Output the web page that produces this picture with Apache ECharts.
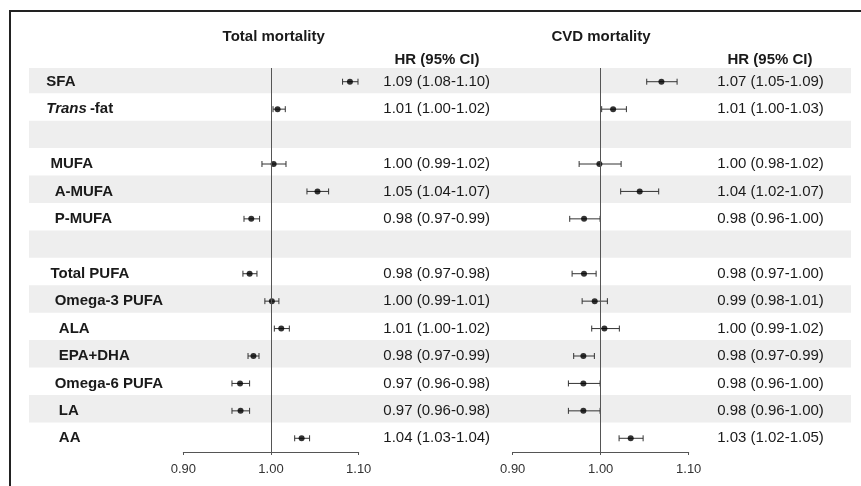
<!DOCTYPE html>
<html>
<head>
<meta charset="utf-8">
<script src="https://cdn.jsdelivr.net/npm/echarts@6/dist/echarts.min.js"></script>
<style>
html,body{margin:0;padding:0;background:#fff;}
#c{width:861px;height:486px;}
</style>
</head>
<body>
<div id="c"></div>
<script>
// ---- data ----
var rowLabels = ["SFA", "Trans-fat", "", " MUFA", "  A-MUFA", "  P-MUFA", "", " Total PUFA", "  Omega-3 PUFA", "   ALA", "   EPA+DHA", "  Omega-6 PUFA", "   LA", "   AA"];
var shadedRows = [0, 2, 4, 6, 8, 10, 12];

var totalEst = [1.090, 1.0075, null, 1.003, 1.053, 0.9775, null, 0.9756, 1.001, 1.0117, 0.980, 0.9647, 0.9653, 1.0349];
var totalLo  = [1.0816, 1.0023, null, 0.9897, 1.041, 0.9692, null, 0.968, 0.993, 1.0038, 0.9738, 0.9555, 0.9555, 1.027];
var totalHi  = [1.0992, 1.0163, null, 1.0171, 1.0657, 0.987, null, 0.984, 1.009, 1.0209, 0.9863, 0.9756, 0.9756, 1.044];
var totalText = ["1.09 (1.08-1.10)", "1.01 (1.00-1.02)", "", "1.00 (0.99-1.02)", "1.05 (1.04-1.07)", "0.98 (0.97-0.99)", "", "0.98 (0.97-0.98)", "1.00 (0.99-1.01)", "1.01 (1.00-1.02)", "0.98 (0.97-0.99)", "0.97 (0.96-0.98)", "0.97 (0.96-0.98)", "1.04 (1.03-1.04)"];

var cvdEst = [1.069, 1.0141, null, 0.9985, 1.0443, 0.9811, null, 0.981, 0.9932, 1.0042, 0.9803, 0.9803, 0.9803, 1.0341];
var cvdLo  = [1.0523, 1.0011, null, 0.9755, 1.0227, 0.9648, null, 0.9675, 0.9789, 0.9898, 0.9693, 0.9633, 0.9633, 1.0209];
var cvdHi  = [1.0868, 1.0292, null, 1.0232, 1.0659, 0.9993, null, 0.9948, 1.0076, 1.0212, 0.9928, 0.9993, 0.9993, 1.0482];
var cvdText = ["1.07 (1.05-1.09)", "1.01 (1.00-1.03)", "", "1.00 (0.98-1.02)", "1.04 (1.02-1.07)", "0.98 (0.96-1.00)", "", "0.98 (0.97-1.00)", "0.99 (0.98-1.01)", "1.00 (0.99-1.02)", "0.98 (0.97-0.99)", "0.98 (0.96-1.00)", "0.98 (0.96-1.00)", "1.03 (1.02-1.05)"];

var xTicks = { min: 0.9, max: 1.1, interval: 0.1 };
var panelTitles = ["Total mortality", "CVD mortality"];
var hrHeader = "HR (95% CI)";

// ---- build ----
var FONT = "'Liberation Sans', Arial, sans-serif";
var rowIdx = rowLabels.map(function (_, i) { return String(i); });
var TXT = '#1a1a1a';

function pts(est) {
  var out = [];
  est.forEach(function (v, i) { if (v != null) out.push([v, i]); });
  return out;
}
function ci(lo, hi) {
  var out = [];
  lo.forEach(function (v, i) { if (v != null) out.push([v, hi[i], i]); });
  return out;
}
function errRender(params, api) {
  var r = api.value(2);
  var p1 = api.coord([api.value(0), r]);
  var p2 = api.coord([api.value(1), r]);
  var cap = 3;
  var st = { stroke: '#333', lineWidth: 1 };
  return {
    type: 'group',
    children: [
      { type: 'line', shape: { x1: p1[0], y1: p1[1], x2: p2[0], y2: p2[1] }, style: st },
      { type: 'line', shape: { x1: p1[0], y1: p1[1] - cap, x2: p1[0], y2: p1[1] + cap }, style: st },
      { type: 'line', shape: { x1: p2[0], y1: p2[1] - cap, x2: p2[0], y2: p2[1] + cap }, style: st }
    ]
  };
}
function bandRender(params, api) {
  var r = api.value(0);
  var cs = params.coordSys;
  var c = api.coord([0, r]);
  var h = api.size([0, 1])[1];
  var y0 = Math.max(c[1] - 0.58 * h, cs.y);
  var y1 = c[1] + 0.42 * h;
  return { type: 'rect', shape: { x: cs.x, y: y0, width: cs.width, height: y1 - y0 }, style: { fill: '#eeeeee' } };
}

var xAxisBase = function (gi) {
  return {
    type: 'value', gridIndex: gi, min: xTicks.min, max: xTicks.max, interval: xTicks.interval,
    splitLine: { show: false },
    axisLine: { show: true, lineStyle: { color: '#555', width: 1 } },
    axisTick: { show: true, length: 3, lineStyle: { color: '#555' } },
    axisLabel: { fontFamily: FONT, fontSize: 13, color: '#333', margin: 11, formatter: function (v) { return v.toFixed(2); } }
  };
};
var catAxis = function (gi, extra) {
  var a = {
    type: 'category', gridIndex: gi, data: rowIdx, inverse: true, boundaryGap: true,
    axisLine: { show: false }, axisTick: { show: false }, splitLine: { show: false },
    axisLabel: { show: false }
  };
  for (var k in extra) a[k] = extra[k];
  return a;
};

var option = {
  backgroundColor: '#fff',
  animation: false,
  grid: [
    { left: 29, right: 10, top: 68, bottom: 34 },
    { left: 183.3, right: 502.3, top: 68, bottom: 34 },
    { left: 512.7, right: 172.3, top: 68, bottom: 34 }
  ],
  xAxis: [
    { type: 'value', gridIndex: 0, min: 0, max: 1, show: false },
    xAxisBase(1),
    xAxisBase(2)
  ],
  yAxis: [
    catAxis(0, { show: false }),
    catAxis(1, {
      position: 'left',
      axisLabel: {
        show: true, interval: 0, align: 'left', margin: 137,
        fontFamily: FONT, fontSize: 15, fontWeight: 'bold', color: TXT,
        formatter: function (v, i) {
          var s = rowLabels[i];
          if (s.indexOf('Trans') === 0) return '{it|Trans}{b|\u2009' + s.slice(5) + '}';
          return s;
        },
        rich: {
          it: { fontFamily: FONT, fontSize: 15, fontWeight: 'bold', fontStyle: 'italic', color: TXT },
          b: { fontFamily: FONT, fontSize: 15, fontWeight: 'bold', color: TXT }
        }
      }
    }),
    catAxis(1, {
      position: 'right',
      axisLabel: {
        show: true, interval: 0, align: 'center', margin: 78,
        fontFamily: FONT, fontSize: 15, color: TXT,
        formatter: function (v, i) { return totalText[i]; }
      }
    }),
    catAxis(2, { position: 'left' }),
    catAxis(2, {
      position: 'right',
      axisLabel: {
        show: true, interval: 0, align: 'center', margin: 81.8,
        fontFamily: FONT, fontSize: 15, color: TXT,
        formatter: function (v, i) { return cvdText[i]; }
      }
    })
  ],
  series: [
    { type: 'custom', xAxisIndex: 0, yAxisIndex: 0, z: 0, silent: true,
      renderItem: bandRender, data: shadedRows.map(function (r) { return [r]; }), encode: { y: 0 } },

    { type: 'custom', xAxisIndex: 1, yAxisIndex: 1, z: 3, silent: true,
      renderItem: errRender, data: ci(totalLo, totalHi), encode: { x: [0, 1], y: 2 } },
    { type: 'scatter', xAxisIndex: 1, yAxisIndex: 1, z: 4, silent: true, symbolSize: 6,
      itemStyle: { color: '#000' }, data: pts(totalEst),
      markLine: { silent: true, symbol: 'none', label: { show: false },
        lineStyle: { color: '#555', type: 'solid', width: 1 }, data: [{ xAxis: 1 }] } },

    { type: 'custom', xAxisIndex: 2, yAxisIndex: 3, z: 3, silent: true,
      renderItem: errRender, data: ci(cvdLo, cvdHi), encode: { x: [0, 1], y: 2 } },
    { type: 'scatter', xAxisIndex: 2, yAxisIndex: 3, z: 4, silent: true, symbolSize: 6,
      itemStyle: { color: '#000' }, data: pts(cvdEst),
      markLine: { silent: true, symbol: 'none', label: { show: false },
        lineStyle: { color: '#555', type: 'solid', width: 1 }, data: [{ xAxis: 1 }] } }
  ],
  graphic: [
    { type: 'rect', silent: true, shape: { x: 10, y: 11, width: 1000, height: 1000 },
      style: { fill: 'none', stroke: '#222', lineWidth: 2 } },
    { type: 'text', silent: true, x: 273.7, y: 37, style: { text: panelTitles[0], font: 'bold 15px ' + FONT, fill: TXT, textAlign: 'center', textVerticalAlign: 'middle' } },
    { type: 'text', silent: true, x: 601, y: 37, style: { text: panelTitles[1], font: 'bold 15px ' + FONT, fill: TXT, textAlign: 'center', textVerticalAlign: 'middle' } },
    { type: 'text', silent: true, x: 437, y: 60, style: { text: hrHeader, font: 'bold 15px ' + FONT, fill: TXT, textAlign: 'center', textVerticalAlign: 'middle' } },
    { type: 'text', silent: true, x: 770, y: 60, style: { text: hrHeader, font: 'bold 15px ' + FONT, fill: TXT, textAlign: 'center', textVerticalAlign: 'middle' } }
  ]
};

var chart = echarts.init(document.getElementById('c'), null, { renderer: 'canvas' });
chart.setOption(option);
</script>
</body>
</html>
